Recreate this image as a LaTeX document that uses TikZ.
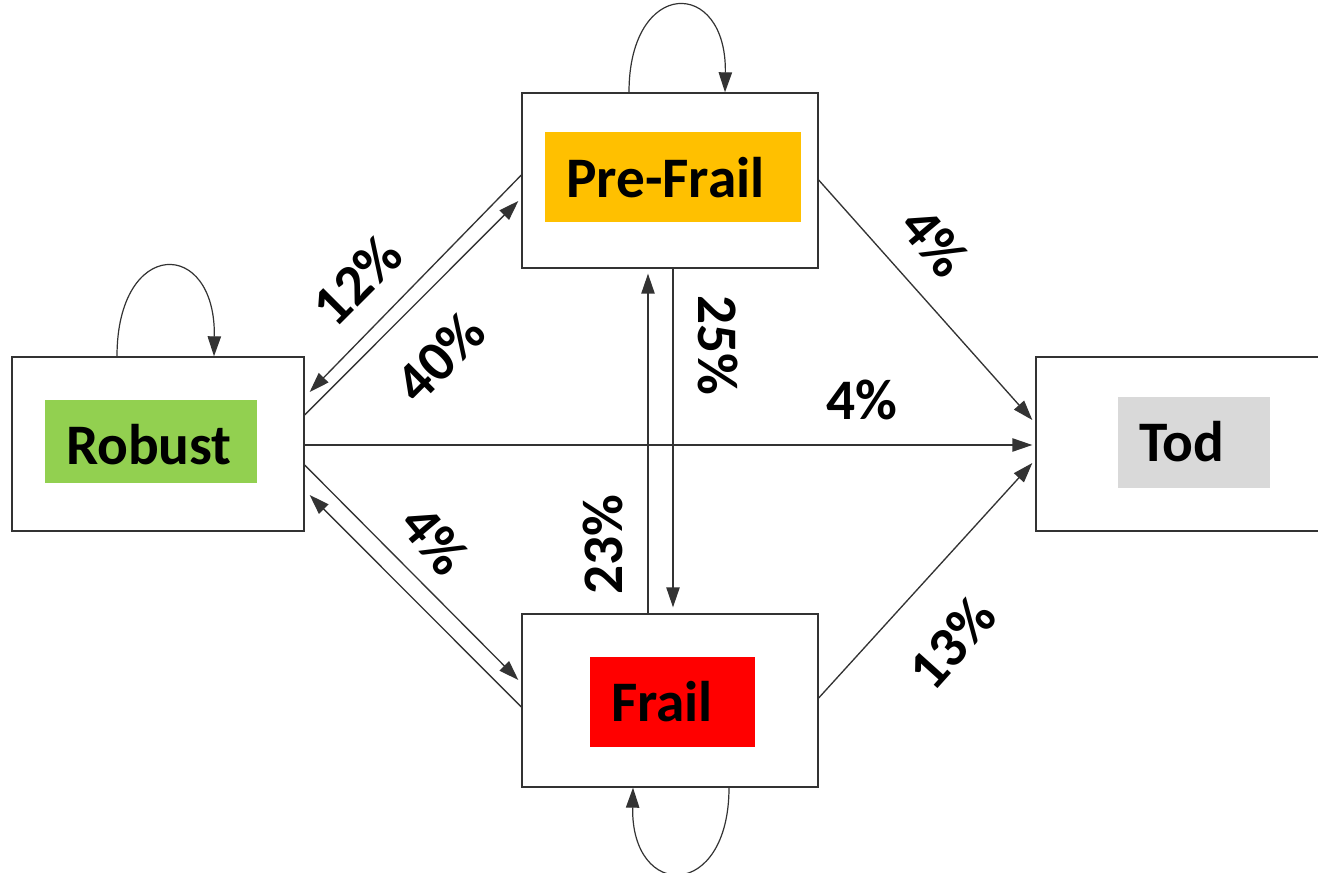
\documentclass[tikz,border=0pt]{standalone}
\usepackage{fontspec}
\setmainfont{Carlito}
\usetikzlibrary{arrows.meta}
\definecolor{edgec}{HTML}{333333}
\definecolor{robustc}{HTML}{92D050}
\definecolor{prefrailc}{HTML}{FFC000}
\definecolor{frailc}{HTML}{FF0000}
\definecolor{todc}{HTML}{D9D9D9}
\tikzset{
  statebox/.style={draw=edgec, line width=1pt, inner sep=0pt},
  tag/.style={inner xsep=15.75pt, inner ysep=0pt, align=left, text depth=0pt,
    font=\fontsize{43}{50}\selectfont\bfseries, text=black},
  conn/.style={draw=edgec, line width=1pt, -{Triangle[length=15pt,width=10pt]}},
  loopc/.style={draw=edgec, line width=0.9pt, -{Triangle[length=15pt,width=10pt]}},
  pct/.style={font=\fontsize{43}{50}\selectfont\bfseries, inner sep=0pt},
}
\begin{document}
\begin{tikzpicture}[x=0.75pt,y=-0.75pt]
\clip (0,0) rectangle (1318,873);
\fill[white] (0,0) rectangle (1318,873);

% state boxes
\node[statebox, minimum width=219pt, minimum height=130.5pt] (rb) at (158,444) {};
\node[statebox, minimum width=222pt, minimum height=131.25pt] (pf) at (670,180.5) {};
\node[statebox, minimum width=222pt, minimum height=129.75pt] (fr) at (670,700.5) {};
\node[statebox, minimum width=220.5pt, minimum height=130.5pt] (tod) at (1183,444) {};

% coloured tags
\node[tag, fill=robustc, minimum height=62.25pt, text width=127.5pt, text height=35pt] (rbt) at (151,441.5) {Robust};
\node[tag, fill=prefrailc, minimum height=67.5pt, text width=160.5pt, text height=30pt] (pft) at (673,177.5) {Pre-Frail};
\node[tag, fill=frailc, minimum height=67.5pt, text width=92.25pt, text height=30pt] (frt) at (672.5,701.5) {Frail};
\node[tag, fill=todc, minimum height=68.25pt, text width=82.5pt, text height=29pt] (todt) at (1194,442.5) {Tod};

% self loops
\draw[loopc] ([shift={(-41,0)}]rb.north) .. controls +(0,-119) and +(2,-119) .. ([shift={(56,0)}]rb.north);
\draw[loopc] ([shift={(-41,0)}]pf.north) .. controls +(0,-115) and +(2,-115) .. ([shift={(55,0)}]pf.north);
\draw[loopc] ([shift={(59,0)}]fr.south) .. controls +(0,113) and +(-2,113) .. ([shift={(-37,0)}]fr.south);

% transitions
\draw[conn] ([shift={(0,-5.5)}]pf.west) -- ([shift={(5,-52)}]rb.east);
\draw[conn] ([shift={(0,-29)}]rb.east) -- ([shift={(-3,20.5)}]pf.west);
\draw[conn] ([shift={(0,21)}]rb.east) -- ([shift={(-3,-20.5)}]fr.west);
\draw[conn] ([shift={(0,6.5)}]fr.west) -- ([shift={(5,51)}]rb.east);
\draw[conn] ([shift={(-22,0)}]fr.north) -- ([shift={(-22,5)}]pf.south);
\draw[conn] ([shift={(3,0)}]pf.south) -- ([shift={(3,-6)}]fr.north);
\draw[conn] ([shift={(0,1)}]rb.east) -- ([shift={(-3,1)}]tod.west);
\draw[conn] ([shift={(0,-0.5)}]pf.east) -- ([shift={(-3,-24)}]tod.west);
\draw[conn] ([shift={(0,-2.5)}]fr.east) -- ([shift={(-3,19)}]tod.west);

% labels
\node[pct, rotate=45] (l12) at (357,280) {12\%};
\node[pct, rotate=45] (l40) at (440,357) {40\%};
\node[pct, rotate=-50] (l4a) at (435,540) {4\%};
\node[pct, rotate=-50] (l4b) at (935,242) {4\%};
\node[pct] (l4c) at (862,400) {4\%};
\node[pct, rotate=-90] (l25) at (718,345) {25\%};
\node[pct, rotate=90] (l23) at (603,545) {23\%};
\node[pct, rotate=48] (l13) at (952,643) {13\%};
\end{tikzpicture}
\end{document}
